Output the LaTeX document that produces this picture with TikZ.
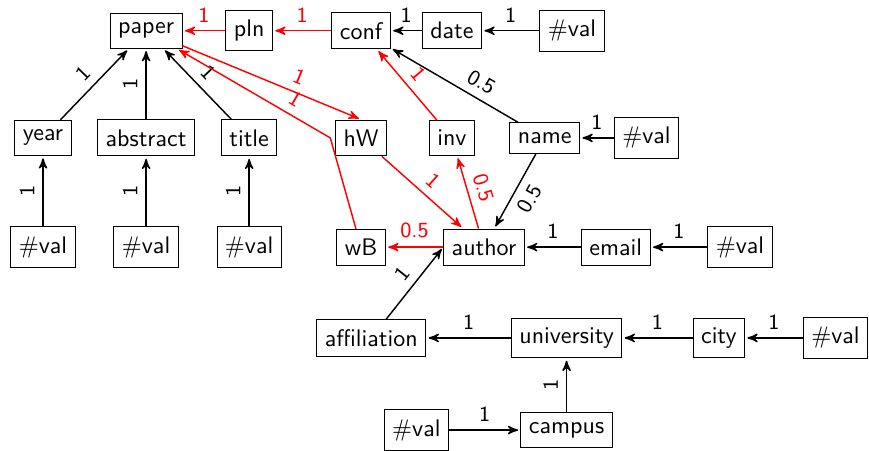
\documentclass[tikz,border=0pt]{standalone}
\usetikzlibrary{arrows,positioning}

\begin{document}
\begin{tikzpicture}[->,>=stealth',shorten >=1pt,semithick,on grid,
	font=\sffamily]
	\tikzstyle{box}=[rectangle,draw=black,thin,inner ysep=4pt]
	\tikzstyle{wt}=[above,sloped,font=\sffamily\small]
	\useasboundingbox (-2.14,0.45) rectangle (10.59,-6.15);
	\clip (-2.14,0.45) rectangle (10.59,-6.15);

	\node[box] (paper) {paper};
	\node[box] (pln) [right=1.51cm of paper] {pln};
	\node[box] (conf) [right=1.64cm of pln] {conf};
	\node[box] (date) [right=1.33cm of conf] {date};
	\node[box] (v1) [right=1.76cm of date] {$\#$val};
	\node[box] (abstract) [below=1.57cm of paper] {abstract};
	\node[box] (year) [left=1.51cm of abstract] {year};
	\node[box] (title) [right=1.51cm of abstract] {title};
	\node[box] (hW) [below=1.57cm of conf] {hW};
	\node[box] (inv) [below=1.57cm of date] {inv};
	\node[box] (name) [right=1.36cm of inv] {name};
	\node[box] (v2) [right=1.49cm of name] {$\#$val};
	\node[box] (v3) [below=1.6cm of year] {$\#$val};
	\node[box] (v4) [below=1.6cm of abstract] {$\#$val};
	\node[box] (v5) [below=1.6cm of title] {$\#$val};
	\node[box] (wB) [below=1.6cm of hW] {wB};
	\node[box] (author) [right=1.8cm of wB] {author};
	\node[box] (email) [right=1.93cm of author] {email};
	\node[box] (v6) [right=1.82cm of email] {$\#$val};
	\node[box] (affiliation) [below left=1.33cm and 1.65cm of author] {affiliation};
	\node[box] (university) [right=2.86cm of affiliation] {university};
	\node[box] (city) [right=2.23cm of university] {city};
	\node[box] (v7) [right=1.71cm of city] {$\#$val};
	\node[box] (campus) [below=1.35cm of university] {campus};
	\node[box] (v8) [left=2.2cm of campus] {$\#$val};
	\coordinate (bend) at ([xshift=-2pt]hW.west);

	\path
	(pln) edge[red] node[wt] {1} (paper)
	(conf) edge[red] node[wt] {1} (pln)
	(date) edge node[wt] {1} (conf)
	(v1) edge node[wt] {1} (date)
	(year) edge node[wt] {1} (paper)
	(abstract) edge node[wt] {1} (paper)
	(title) edge node[wt] {1} (paper)
	(v3) edge node[wt] {1} (year)
	(v4) edge node[wt] {1} (abstract)
	(v5) edge node[wt] {1} (title)
	(paper) edge[red] node[wt,pos=0.62] {1} (hW.north)
	(inv) edge[red] node[wt] {1} (conf)
	(name) edge node[wt,pos=0.35] {0.5} (conf)
	(v2) edge node[wt] {1} (name)
	(name) edge node[wt,below] {0.5} (author)
	(hW) edge[red] node[wt] {1} (author)
	(author) edge[red] node[wt] {0.5} (inv)
	(author) edge[red] node[wt] {0.5} (wB)
	(email) edge node[wt] {1} (author)
	(v6) edge node[wt] {1} (email)
	(affiliation) edge node[wt] {1} (author.west)
	(university) edge node[wt] {1} (affiliation)
	(city) edge node[wt] {1} (university)
	(v7) edge node[wt] {1} (city)
	(campus) edge node[wt] {1} (university)
	(v8) edge node[wt] {1} (campus)
	;
	\draw[red] (wB) -- (bend) -- node[wt,pos=0.28] {1} (paper);
\end{tikzpicture}
\end{document}
